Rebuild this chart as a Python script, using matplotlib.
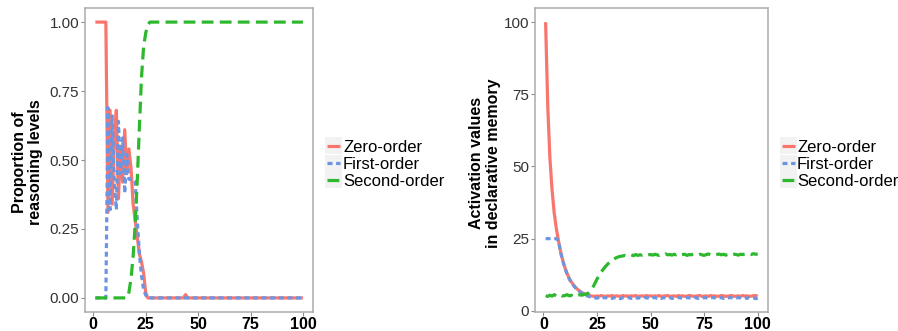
import matplotlib
matplotlib.use("Agg")
import matplotlib.pyplot as plt
from matplotlib.lines import Line2D
from matplotlib.patches import Rectangle

plt.rcParams['font.family'] = ['Liberation Sans', 'DejaVu Sans']
plt.rcParams['lines.scale_dashes'] = False

# ---------------- data ----------------
steps = list(range(1, 101))

series_names = ["Zero-order", "First-order", "Second-order"]
series_colors = ["#F8766D", "#6B95E0", "#2DB82D"]

zero_left = ([1.0] * 6 +
             [0.31, 0.68, 0.34, 0.58, 0.68, 0.36, 0.55, 0.42, 0.61, 0.45,
              0.54, 0.47, 0.34, 0.28, 0.22, 0.16, 0.13, 0.09, 0.02, 0.0] +
             [0.0] * 17 + [0.012] + [0.0] * 56)
first_left = ([0.0] * 6 +
              [0.69, 0.32, 0.66, 0.42, 0.32, 0.64, 0.45, 0.58, 0.38, 0.52,
               0.43, 0.43, 0.43, 0.42, 0.28, 0.16, 0.08, 0.03, 0.01] +
              [0.0] * 75)
second_left = ([0.0] * 16 +
               [0.02, 0.07, 0.15, 0.27, 0.43, 0.62, 0.80, 0.91, 0.96, 0.99] +
               [1.0] * 74)

zero_right = [100, 71, 53, 42, 34, 28.5, 24.3, 20.5, 17.5, 15.0,
              13.0, 11.3, 10.0, 9.0, 8.1, 7.4, 6.8, 6.3, 5.9, 5.6,
              5.4, 5.2, 5.1, 5.0, 5.2, 5.0, 5.3, 5.1, 5.0, 5.2,
              5.1, 5.3, 5.0, 5.2, 5.1, 5.0, 5.3, 5.1, 5.2, 5.0,
              5.2, 5.1, 5.3, 5.0, 5.1, 5.2, 5.0, 5.3, 5.1, 5.2,
              5.0, 5.2, 5.1, 5.3, 5.0, 5.1, 5.2, 5.3, 5.0, 5.1,
              5.2, 5.0, 5.3, 5.1, 5.2, 5.0, 5.1, 5.3, 5.2, 5.0,
              5.1, 5.2, 5.3, 5.0, 5.1, 5.2, 5.0, 5.3, 5.1, 5.2,
              5.0, 5.1, 5.3, 5.2, 5.0, 5.1, 5.2, 5.3, 5.0, 5.1,
              5.2, 5.0, 5.3, 5.1, 5.2, 5.0, 5.1, 5.2, 5.3, 5.1]
first_right = [25, 25, 25, 25, 25, 25, 24.3, 20.3, 17.3, 14.8,
               12.8, 11.1, 9.8, 8.8, 7.9, 7.2, 6.6, 6.1, 5.6, 5.3,
               5.0, 4.8, 4.6, 4.5, 4.4, 4.6, 4.3, 4.5, 4.6, 4.4,
               4.5, 4.3, 4.6, 4.4, 4.5, 4.2, 4.6, 4.5, 4.4, 4.6,
               4.3, 4.5, 4.6, 4.4, 4.5, 4.3, 4.6, 4.5, 4.4, 4.2,
               4.5, 4.6, 4.4, 4.5, 4.3, 4.6, 4.4, 4.5, 4.6, 4.3,
               4.5, 4.4, 4.6, 4.5, 4.3, 4.4, 4.6, 4.5, 4.4, 4.5,
               4.6, 4.3, 4.5, 4.4, 4.6, 4.5, 4.3, 4.4, 4.6, 4.5,
               4.4, 4.5, 4.6, 4.3, 4.5, 4.4, 4.6, 4.5, 4.3, 4.4,
               4.6, 4.5, 4.4, 4.5, 4.3, 4.6, 4.4, 4.5, 4.2, 4.4]
second_right = [5.2, 5.0, 5.4, 5.1, 5.6, 5.2, 5.0, 5.5, 5.1, 5.3,
                5.6, 5.2, 5.4, 5.0, 5.5, 5.3, 5.6, 5.4, 5.7, 5.8,
                6.2, 7.0, 8.0, 9.5, 11.0, 12.3, 13.5, 14.5, 15.4, 16.2,
                16.9, 17.5, 18.0, 18.4, 18.7, 18.9, 19.0, 19.2, 19.0, 19.3,
                19.4, 19.1, 19.5, 19.2, 19.4, 19.3, 19.6, 19.2, 19.4, 19.5,
                19.3, 19.6, 19.4, 19.2, 19.5, 19.3, 19.7, 19.4, 19.5, 19.3,
                19.6, 19.4, 19.8, 19.3, 19.5, 19.6, 19.2, 19.5, 19.4, 19.7,
                19.5, 19.3, 19.6, 19.4, 19.2, 19.5, 19.7, 19.4, 19.6, 19.3,
                19.5, 19.7, 19.4, 19.6, 19.3, 19.5, 19.8, 19.4, 19.6, 19.5,
                19.3, 19.6, 19.5, 19.7, 19.4, 19.6, 19.5, 19.8, 19.6, 19.7]

left_ticks = [0.0, 0.25, 0.5, 0.75, 1.0]
left_ticklabels = ["0.00", "0.25", "0.50", "0.75", "1.00"]
right_ticks = [0, 25, 50, 75, 100]
right_ticklabels = ["0", "25", "50", "75", "100"]
x_ticks = [0, 25, 50, 75, 100]
x_ticklabels = ["0", "25", "50", "75", "100"]

left_ylabel = "Proportion of\nreasoning levels"
right_ylabel = "Activation values\nin declarative memory"

# ---------------- styling ----------------
W, H = 898, 331
fig = plt.figure(figsize=(W / 100, H / 100), dpi=100)

styles = [dict(linestyle='-', lw=2.3),
          dict(linestyle=(0, (3.6, 2.6)), lw=2.3),
          dict(linestyle=(0, (8.5, 4.5)), lw=2.3)]

border_col = "#ababab"
tick_col = "#8c8c8c"


def style_axes(ax, yticks, yticklabels):
    for s in ax.spines.values():
        s.set_color(border_col)
        s.set_linewidth(1.1)
    ax.set_xticks(x_ticks)
    ax.set_xticklabels(x_ticklabels, fontsize=11.5, fontweight='bold', color='black')
    ax.set_yticks(yticks)
    ax.set_yticklabels(yticklabels, fontsize=11, color='#333333')
    ax.tick_params(axis='both', direction='out', length=2.8, width=0.8,
                   color=tick_col, pad=1.5)
    ax.tick_params(axis='x', pad=0.8)


def draw_ylabel(text, xc, yc):
    fig.text(xc / W, 1 - yc / H, text, rotation=90, ha='center', va='center',
             multialignment='center', fontsize=11.5, fontweight='bold',
             linespacing=1.1, color='black')


def draw_legend(x_key, x_text, rows_y):
    for i, name in enumerate(series_names):
        yc = rows_y[i]
        fig.add_artist(Rectangle(((x_key) / W, 1 - (yc + 8.5) / H), 17 / W, 17 / H,
                                 transform=fig.transFigure, facecolor='#f2f2f2',
                                 edgecolor='none'))
        st = styles[i]
        fig.add_artist(Line2D([(x_key + 2) / W, (x_key + 15) / W],
                              [1 - yc / H, 1 - yc / H], transform=fig.transFigure,
                              color=series_colors[i], lw=st['lw'],
                              linestyle=st['linestyle'], solid_capstyle='butt',
                              dash_capstyle='butt'))
        fig.text(x_text / W, 1 - yc / H, name, fontsize=12, va='center_baseline',
                 ha='left', color='black')


# left panel
ax1 = fig.add_axes([85 / W, 1 - 311.7 / H, 228.3 / W, 303.4 / H])
for vals, col, st in zip([zero_left, first_left, second_left], series_colors, styles):
    ax1.plot(steps, vals, color=col, solid_capstyle='butt', dash_capstyle='butt', **st)
ax1.set_xlim(1 - 4.95, 100 + 4.95)
ax1.set_ylim(-0.05, 1.05)
style_axes(ax1, left_ticks, left_ticklabels)

# right panel
ax2 = fig.add_axes([535 / W, 1 - 311.7 / H, 233.3 / W, 303.4 / H])
for vals, col, st in zip([zero_right, first_right, second_right], series_colors, styles):
    ax2.plot(steps, vals, color=col, solid_capstyle='butt', dash_capstyle='butt', **st)
ax2.set_xlim(1 - 4.95, 100 + 4.95)
ax2.set_ylim(-0.3, 104.8)
style_axes(ax2, right_ticks, right_ticklabels)

draw_ylabel(left_ylabel, 27.5, 162)
draw_ylabel(right_ylabel, 485, 163)

draw_legend(325, 343, [146, 163, 179.5])
draw_legend(780, 797, [146, 163, 179.5])

fig.savefig("out.png", dpi=100)
